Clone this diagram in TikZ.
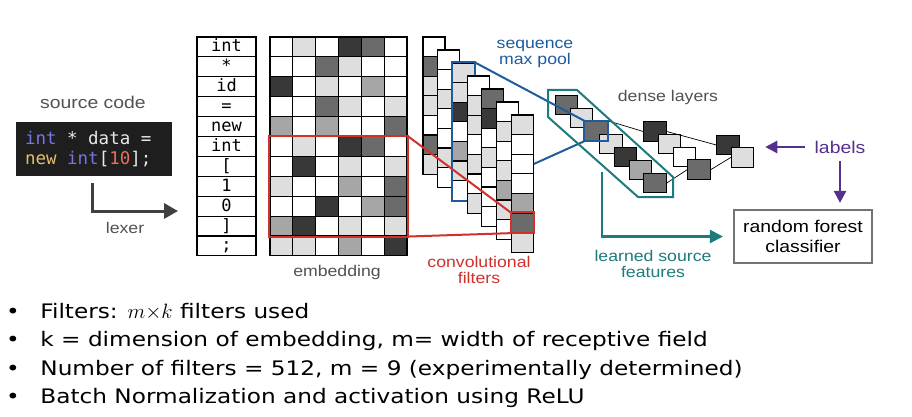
\documentclass[tikz,border=0pt]{standalone}
\usepackage{fontspec}
\newfontfamily\lblfont{Liberation Sans}[FakeStretch=1.14]
\newfontfamily\codefont{DejaVu Sans Mono}
\newfontfamily\bulfont{DejaVu Sans}[FakeStretch=1.16]
\usetikzlibrary{arrows.meta}
\newcommand{\codesp}{\hspace*{0.602em}}
\definecolor{cred}{HTML}{D0312D}
\definecolor{cblue}{HTML}{1F5C9E}
\definecolor{cteal}{HTML}{1E7B7B}
\definecolor{cpurple}{HTML}{55308F}
\definecolor{codebg}{HTML}{1E1E1E}
\definecolor{codefg}{HTML}{E8E8E8}
\definecolor{kwblue}{HTML}{7676E0}
\definecolor{kwgold}{HTML}{E3C068}
\definecolor{numred}{HTML}{E8705A}
\colorlet{shade0}{white}
\colorlet{shade1}{black!13}
\colorlet{shade2}{black!35}
\colorlet{shade3}{black!58}
\colorlet{shade4}{black!78}
\begin{document}
\begin{tikzpicture}[
        x=1pt,
        y=-1pt,
        thick,
        font=\lblfont\fontsize{15.5}{15.5}\selectfont
    ]
    \tikzset{
        cellnode/.style = {rectangle, draw=black, line width=1.1pt, inner sep=0pt, minimum width=22.8pt, minimum height=19.9pt},
        tokennode/.style = {cellnode, minimum width=59pt, text height=12pt, text depth=2pt, font=\codefont\fontsize{17}{17}\selectfont},
        kernnode/.style = {cellnode, minimum width=22pt, minimum height=19.6pt},
        densenode/.style = {cellnode, line width=1pt, minimum width=22.5pt, minimum height=19.5pt},
        graytext/.style = {text=black!68},
        bigtext/.style = {font=\lblfont\fontsize{17}{20}\selectfont},
        bullettext/.style = {anchor=base west, inner sep=0pt, font=\bulfont\fontsize{20}{20}\selectfont},
        bulletdot/.style = {anchor=base, inner sep=0pt, font=\bulfont\fontsize{20}{20}\selectfont},
        edgen/.style = {-, line width=0.7pt},
        edger/.style = {-, line width=2pt, cred},
        edgeb/.style = {-, line width=2pt, cblue},
        edget/.style = {-, line width=2pt, cteal},
        arrowk/.style = {-{Triangle[length=14pt,width=15pt]}, line width=3pt, black!75},
        arrowt/.style = {-{Triangle[length=13pt,width=13pt]}, line width=2.5pt, cteal},
        arrowp/.style = {-{Triangle[length=12pt,width=12pt]}, line width=2.5pt, cpurple},
    }
    \path[fill=white, use as bounding box] (0,0) rectangle (912,417);
    %
    \node[graytext, bigtext] at (93,102) (srclbl) {source code};
    \node[fill=codebg, text=codefg, align=left, inner xsep=9pt, text width=138pt, minimum height=54pt,
          font=\codefont\fontsize{17.5}{20}\selectfont] at (94,149) (src)
        {{\color{kwblue}int}\codesp*\codesp data\codesp=\\{\color{kwgold}new}\codesp{\color{kwblue}int}[{\color{numred}10}];};
    \coordinate (lx) at (92,183);
    \coordinate (lxtip) at (178,211);
    \draw[arrowk] (lx) |- (lxtip);
    \node[graytext] at (125,228) (lexer) {lexer};
    %
    \foreach \tok [count=\i] in {{int},{*},{id},{=},{new},{int},{[},{1},{0},{]},{;}}
        \node[tokennode] at (226.5,{37+19.9*(\i-0.5)}) (tok-\i) {\tok};
    %
    \foreach \r/\sh in {1/{0,1,0,4,3,0}, 2/{0,0,3,1,0,0}, 3/{4,0,1,0,2,0}, 4/{0,0,3,1,0,1},
                        5/{2,0,2,0,0,3}, 6/{0,1,0,4,3,0}, 7/{0,4,0,1,0,1}, 8/{1,0,0,2,0,3},
                        9/{0,0,4,0,2,3}, 10/{2,4,0,1,0,1}, 11/{1,1,0,2,0,4}}
        \foreach \s [count=\c] in \sh
            \node[cellnode, fill=shade\s] at ({270+22.83*(\c-0.5)},{37+19.9*(\r-0.5)}) (e-\r-\c) {};
    \node[graytext] at (337,272) (emblbl) {embedding};
    %
    \foreach \sh [count=\k] in {{0,3,1,1,0,3,1}, {0,0,1,0,0,1,0}, {1,1,4,0,2,1,0}, {0,1,1,0,1,0,1},
                               {3,4,0,1,0,0,0}, {0,1,0,1,2,1,0}, {1,0,0,0,2,3,1}}
    {
        \foreach \s [count=\c] in \sh
            \node[kernnode, fill=shade\s] at ({434+14.7*(\k-1)},{37+19.6*(\c-0.5)+13*(\k-1)}) (k\k-\c) {};
        \ifnum\k=3
            \draw[edgeb] (k3-1.north west) rectangle (k3-7.south east);
        \fi
    }
    %
    \draw[edger] (e-6-1.north west) rectangle (e-10-6.south east);
    \draw[edger] (k7-6.north west) rectangle (k7-6.south east);
    \draw[edger] (e-6-6.north east) -- (k7-6.north west);
    \draw[edger] (e-10-6.south east) -- (k7-6.south west);
    \node[text=cred, align=center] at (479,270) (convlbl) {convolutional\\filters};
    %
    \foreach \s [count=\i] in {3,1,3,1,4,2,3}
        \node[densenode, fill=shade\s] at ({566.5+14.75*(\i-1)},{105+13*(\i-1)}) (d1-\i) {};
    \foreach \s [count=\i] in {4,1,0,3}
        \node[densenode, fill=shade\s] at ({655+14.7*(\i-1)},{131.5+12.7*(\i-1)}) (d2-\i) {};
    \foreach \s [count=\i] in {4,1}
        \node[densenode, fill=shade\s] at ({728+14.5*(\i-1)},{145+12.5*(\i-1)}) (d3-\i) {};
    \draw[edgen] (d1-3.north east) -- (d2-1.west);
    \draw[edgen] (d1-7.east) -- (d2-4.west);
    \draw[edgen] (d2-1.east) -- (d3-1.west);
    \draw[edgen] (d2-4.east) -- (d3-2.west);
    \node[graytext] at (668,97) (denselbl) {dense layers};
    %
    \draw[edgeb] (d1-3.north west) rectangle (d1-3.south east);
    \draw[edgeb] (k3-1.north east) -- (d1-3.north west);
    \draw[edgeb] (k7-3.east) -- (d1-3.south west);
    \node[text=cblue, align=center] at (535,54) (poollbl) {sequence\\max pool};
    %
    \draw[edget] (548,90) -- (577,90) -- (673,177) -- (673,197) -- (638,197) -- (548,117) -- cycle;
    %
    \node[bigtext, draw=black!55, line width=2.2pt, minimum width=138pt, minimum height=53pt, align=center]
        at (803,236.5) (rf) {random forest\\classifier};
    \coordinate (lf) at (602,172);
    \draw[arrowt, shorten >=10pt] (lf) |- (rf.west);
    \node[text=cteal, align=center] at (653,264) (featlbl) {learned source\\features};
    %
    \node[bigtext, text=cpurple] at (840,147) (labels) {labels};
    \draw[arrowp, shorten <=6pt, shorten >=11pt] (labels.west) -- (labels.west -| d3-2.east);
    \draw[arrowp, shorten <=4pt, shorten >=6pt] (labels.south) -- (labels.south |- rf.north);
    %
    \node[bulletdot] at (13,318) (dot1) {\textbullet};
    \node[bulletdot] at (13,346.5) (dot2) {\textbullet};
    \node[bulletdot] at (13,375) (dot3) {\textbullet};
    \node[bulletdot] at (13,403.5) (dot4) {\textbullet};
    \node[bullettext] at (40,318) (b1) {Filters: $m{\times}k$ filters used};
    \node[bullettext] at (40,346.5) (b2) {k = dimension of embedding, m= width of receptive field};
    \node[bullettext] at (40,375) (b3) {Number of filters = 512, m = 9 (experimentally determined)};
    \node[bullettext] at (40,403.5) (b4) {Batch Normalization and activation using ReLU};
\end{tikzpicture}
\end{document}
